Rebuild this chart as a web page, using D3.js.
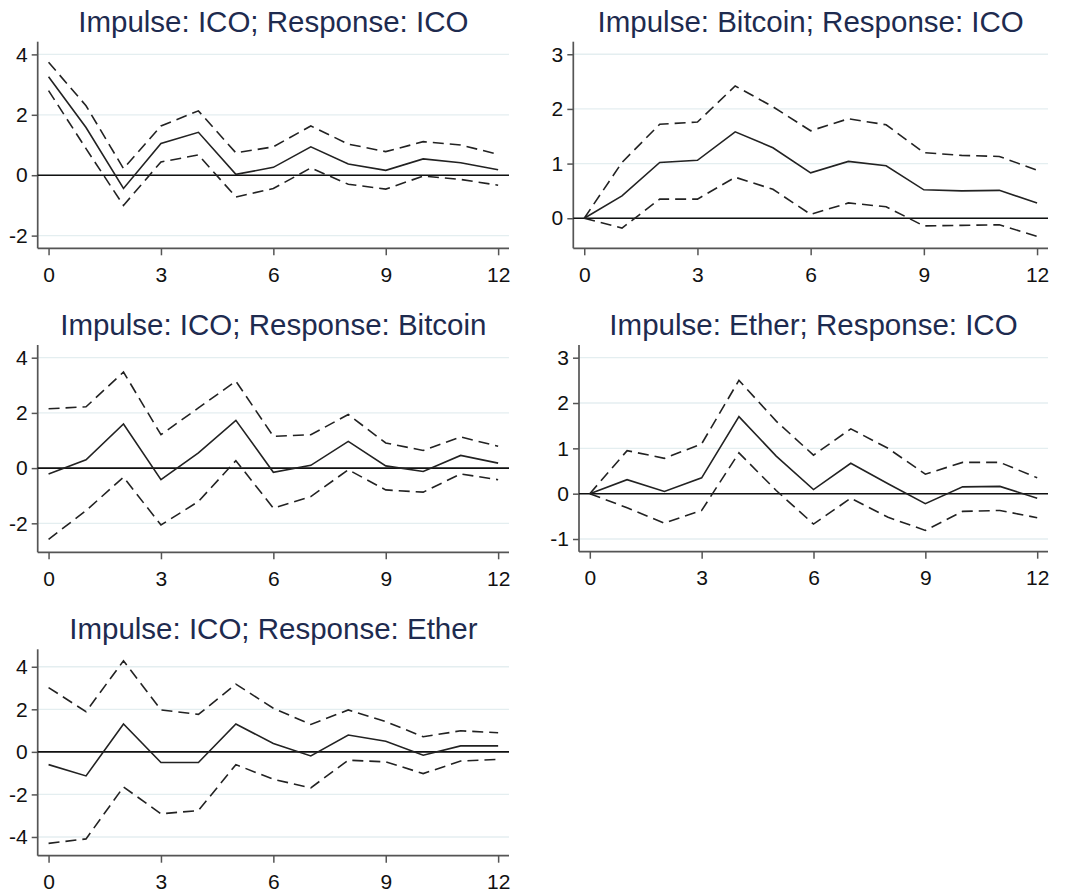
<!DOCTYPE html>
<html>
<head>
<meta charset="utf-8">
<script src="https://cdn.jsdelivr.net/npm/d3@7"></script>
<style>
  html, body { margin: 0; padding: 0; background: #fff; }
  svg { display: block; font-family: "Liberation Sans", Arial, sans-serif; }
</style>
</head>
<body>
<svg id="chart" width="1073" height="892"></svg>
<script>
// ---------- data ----------
const steps = [0, 1, 2, 3, 4, 5, 6, 7, 8, 9, 10, 11, 12];
const xTicks = [0, 3, 6, 9, 12];

const titles = [
  "Impulse: ICO; Response: ICO",
  "Impulse: Bitcoin; Response: ICO",
  "Impulse: ICO; Response: Bitcoin",
  "Impulse: Ether; Response: ICO",
  "Impulse: ICO; Response: Ether"
];

// ICO -> ICO
const irfIcoIco   = [3.26, 1.58, -0.44, 1.05, 1.42, 0.03, 0.26, 0.94, 0.37, 0.16, 0.54, 0.41, 0.18];
const upIcoIco    = [3.74, 2.30, 0.22, 1.63, 2.13, 0.74, 0.94, 1.63, 1.03, 0.78, 1.11, 1.00, 0.69];
const loIcoIco    = [2.80, 0.88, -1.00, 0.44, 0.67, -0.72, -0.44, 0.24, -0.30, -0.46, -0.03, -0.14, -0.33];
const yTicksIcoIco = [-2, 0, 2, 4];

// Bitcoin -> ICO
const irfBtcIco   = [0, 0.41, 1.02, 1.06, 1.58, 1.29, 0.83, 1.04, 0.96, 0.52, 0.50, 0.51, 0.28];
const upBtcIco    = [0, 1.02, 1.72, 1.76, 2.42, 2.04, 1.60, 1.82, 1.71, 1.20, 1.15, 1.13, 0.88];
const loBtcIco    = [0, -0.18, 0.35, 0.35, 0.75, 0.53, 0.07, 0.28, 0.21, -0.14, -0.13, -0.12, -0.33];
const yTicksBtcIco = [0, 1, 2, 3];

// ICO -> Bitcoin
const irfIcoBtc   = [-0.21, 0.30, 1.60, -0.42, 0.55, 1.73, -0.15, 0.10, 0.97, 0.08, -0.12, 0.46, 0.18];
const upIcoBtc    = [2.15, 2.22, 3.48, 1.21, 2.18, 3.15, 1.15, 1.21, 1.94, 0.91, 0.64, 1.13, 0.79];
const loIcoBtc    = [-2.58, -1.54, -0.33, -2.06, -1.21, 0.27, -1.45, -1.03, -0.06, -0.79, -0.87, -0.21, -0.42];
const yTicksIcoBtc = [-2, 0, 2, 4];

// Ether -> ICO
const irfEthIco   = [0, 0.31, 0.05, 0.35, 1.70, 0.83, 0.09, 0.67, 0.22, -0.22, 0.15, 0.16, -0.10];
const upEthIco    = [0, 0.95, 0.78, 1.10, 2.50, 1.60, 0.85, 1.43, 1.00, 0.43, 0.69, 0.69, 0.35];
const loEthIco    = [0, -0.31, -0.65, -0.37, 0.90, 0.07, -0.67, -0.10, -0.52, -0.81, -0.39, -0.37, -0.53];
const yTicksEthIco = [-1, 0, 1, 2, 3];

// ICO -> Ether
const irfIcoEth   = [-0.60, -1.13, 1.31, -0.50, -0.50, 1.31, 0.39, -0.19, 0.79, 0.50, -0.16, 0.28, 0.28];
const upIcoEth    = [3.02, 1.89, 4.28, 1.97, 1.76, 3.18, 2.05, 1.29, 1.97, 1.42, 0.71, 0.99, 0.90];
const loIcoEth    = [-4.30, -4.09, -1.65, -2.91, -2.76, -0.60, -1.29, -1.69, -0.39, -0.47, -1.02, -0.43, -0.35];
const yTicksIcoEth = [-4, -2, 0, 2, 4];

// ---------- layout ----------
const panels = [
  { title: titles[0], irf: irfIcoIco, up: upIcoIco, lo: loIcoIco, yTicks: yTicksIcoIco,
    box: { l: 37.7, r: 509, t: 41.7, b: 248.3 }, yDom: [-2.42, 4.42] },
  { title: titles[1], irf: irfBtcIco, up: upBtcIco, lo: loBtcIco, yTicks: yTicksBtcIco,
    box: { l: 573.3, r: 1048, t: 41.7, b: 248.3 }, yDom: [-0.55, 3.23] },
  { title: titles[2], irf: irfIcoBtc, up: upIcoBtc, lo: loIcoBtc, yTicks: yTicksIcoBtc,
    box: { l: 37.7, r: 509, t: 345, b: 552.3 }, yDom: [-3.05, 4.46] },
  { title: titles[3], irf: irfEthIco, up: upEthIco, lo: loEthIco, yTicks: yTicksEthIco,
    box: { l: 579, r: 1048, t: 345, b: 551.7 }, yDom: [-1.28, 3.28] },
  { title: titles[4], irf: irfIcoEth, up: upIcoEth, lo: loIcoEth, yTicks: yTicksIcoEth,
    box: { l: 37.7, r: 509, t: 649.3, b: 855.7 }, yDom: [-4.88, 4.82] }
];

const svg = d3.select("#chart");
const xDom = [-0.29, 12.29];
const fmt = d => String(d);

panels.forEach(p => {
  const { l, r, t, b } = p.box;
  const x = d3.scaleLinear().domain(xDom).range([l, r]);
  const y = d3.scaleLinear().domain(p.yDom).range([b, t]);
  const g = svg.append("g");

  // grid
  g.selectAll("line.grid").data(p.yTicks).enter().append("line")
    .attr("x1", l).attr("x2", r)
    .attr("y1", d => y(d)).attr("y2", d => y(d))
    .attr("stroke", "#e4eef0").attr("stroke-width", 1.3);

  // axes
  const yAxis = d3.axisLeft(y).tickValues(p.yTicks).tickSize(6).tickPadding(4).tickFormat(fmt);
  const xAxis = d3.axisBottom(x).tickValues(xTicks).tickSize(7).tickPadding(11.5).tickFormat(fmt);

  const ya = g.append("g").attr("transform", `translate(${l},0)`).call(yAxis);
  const xa = g.append("g").attr("transform", `translate(0,${b})`).call(xAxis);
  [ya, xa].forEach(a => {
    a.attr("font-size", null).attr("font-family", null);
    a.select(".domain").attr("stroke", "#555").attr("stroke-width", 1.7);
    a.selectAll(".tick line").attr("stroke", "#555").attr("stroke-width", 1.5);
    a.selectAll(".tick text").attr("fill", "#111")
      .attr("font-size", 21).attr("font-family", "'Liberation Sans', Arial, sans-serif");
  });
  ya.select(".domain").attr("d", `M0,${t}V${b}`);
  xa.select(".domain").attr("d", `M${l},0H${r}`);

  // zero line
  g.append("line").attr("x1", l).attr("x2", r).attr("y1", y(0)).attr("y2", y(0))
    .attr("stroke", "#111").attr("stroke-width", 1.6);

  const line = vals => d3.line().x((d, i) => x(steps[i])).y(d => y(d))(vals);

  g.append("path").attr("d", line(p.up)).attr("fill", "none")
    .attr("stroke", "#222").attr("stroke-width", 1.6).attr("stroke-dasharray", "11,6");
  g.append("path").attr("d", line(p.lo)).attr("fill", "none")
    .attr("stroke", "#222").attr("stroke-width", 1.6).attr("stroke-dasharray", "11,6");
  g.append("path").attr("d", line(p.irf)).attr("fill", "none")
    .attr("stroke", "#222").attr("stroke-width", 1.6);

  // title
  g.append("text").attr("x", (l + r) / 2).attr("y", t - 10)
    .attr("text-anchor", "middle").attr("fill", "#1e2b4f")
    .attr("font-size", 29.5).text(p.title);
});
</script>
</body>
</html>
